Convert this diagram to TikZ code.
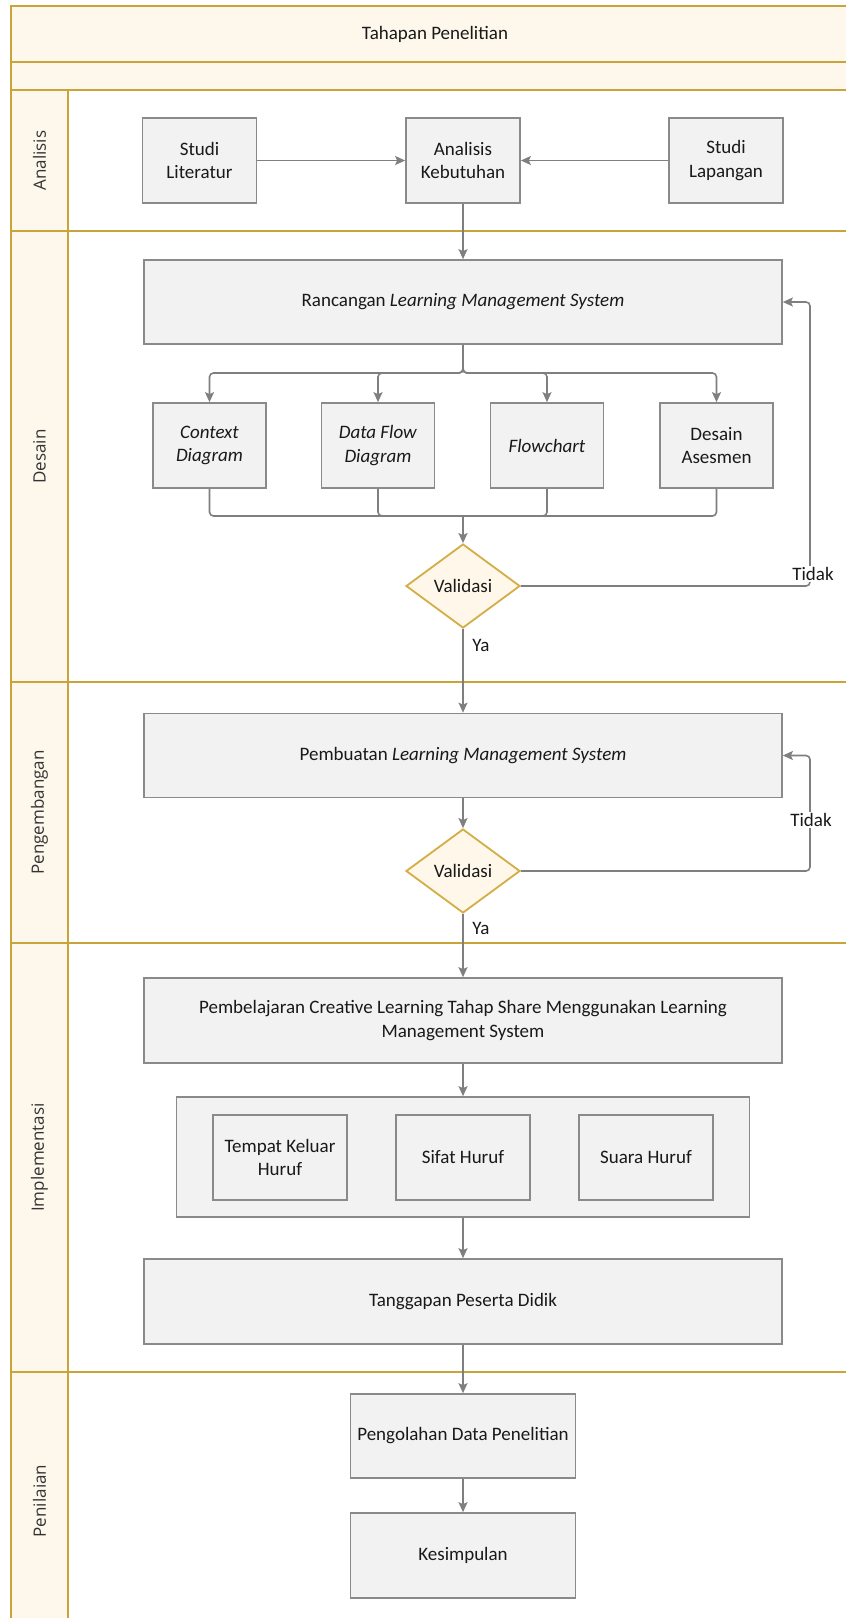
\documentclass[tikz,border=0pt]{standalone}
\usepackage{fontspec}
\setmainfont{Carlito}
\newfontfamily\lanefont{Open Sans}
\usepackage{tikz}
\usetikzlibrary{shapes.geometric,arrows.meta,positioning,calc}
\definecolor{lanegold}{HTML}{C9A43A}
\definecolor{lanecream}{HTML}{FEF8EC}
\definecolor{boxgray}{HTML}{F2F2F2}
\definecolor{boxline}{HTML}{8A8A8A}
\definecolor{connline}{HTML}{7F7F7F}
\definecolor{diafill}{HTML}{FEF7EA}
\definecolor{diagold}{HTML}{D2AE45}

\begin{document}
\begin{tikzpicture}[x=1pt,y=-1pt,
    lane/.style={draw=lanegold,line width=2.4pt},
    lanelabel/.style={rotate=90,font=\lanefont\fontsize{17}{19}\selectfont,text=black!80},
    procbox/.style={draw=boxline,fill=boxgray,line width=1.7pt,align=center,inner sep=2pt,font=\fontsize{19}{23.5}\selectfont,text=black!90},
    smallbox/.style={procbox,minimum width=114pt,minimum height=85pt},
    widebox/.style={procbox,minimum width=638pt,minimum height=84pt},
    decision/.style={diamond,draw=diagold,fill=diafill,line width=1.8pt,minimum width=114pt,minimum height=84pt,inner sep=0pt,font=\fontsize{19}{23.5}\selectfont,text=black!90},
    conn/.style={draw=connline,line width=1.6pt,rounded corners=4pt},
    arr/.style={conn,-{Stealth[length=10pt,width=9pt,inset=2pt]}},
    edgelabel/.style={font=\fontsize{19}{23.5}\selectfont,text=black!90,inner sep=1pt}]
    \path[use as bounding box] (0,0) rectangle (846,1618);
    \clip (0,0) rectangle (846,1618);

    % Header rows
    \draw[lane,fill=lanecream] (11,6) rectangle (870,62);
    \draw[lane,fill=lanecream] (11,62) rectangle (870,90);
    \node[edgelabel] (title) at (435,34) {Tahapan Penelitian};

    % Lanes
    \foreach \ytop/\ybot/\lname/\ltext in {90/231/ana/Analisis,231/682/des/Desain,682/943/dev/Pengembangan,943/1372/imp/Implementasi,1372/1630/eval/Penilaian}{
        \draw[lane,fill=white] (68,\ytop) rectangle (870,\ybot);
        \draw[lane,fill=lanecream] (11,\ytop) rectangle (68,\ybot);
        \node[lanelabel] (lane-\lname) at (39.5,{(\ytop+\ybot)/2}) {\ltext};
    }

    % Analisis
    \node[smallbox] (litr) at (199.5,160.5) {Studi\\Literatur};
    \node[smallbox] (kebt) at (463,160.5) {Analisis\\Kebutuhan};
    \node[smallbox] (lapg) at (726,160.5) {Studi\\Lapangan};

    % Desain
    \node[widebox] (rancang) at (463,302) {Rancangan \textit{Learning Management System}};
    \node[smallbox,minimum width=113pt] (ctx) at (209.5,445.5) {\textit{Context}\\\textit{Diagram}};
    \node[smallbox,minimum width=113pt] (dfd) at (378,445.5) {\textit{Data Flow}\\\textit{Diagram}};
    \node[smallbox,minimum width=113pt] (flow) at (547,445.5) {\textit{Flowchart}};
    \node[smallbox,minimum width=113pt] (asm) at (716.5,445.5) {Desain\\Asesmen};
    \node[decision] (val1) at (463,586) {Validasi};
    \coordinate (split) at (463,373);
    \coordinate (join) at (463,516);
    \coordinate (back1) at (810,586);

    % Pengembangan
    \node[widebox] (buat) at (463,755.5) {Pembuatan \textit{Learning Management System}};
    \node[decision] (val2) at (463,871) {Validasi};
    \coordinate (back2) at (810,871);

    % Implementasi
    \node[widebox,minimum height=85pt] (ajar) at (463,1020.5) {Pembelajaran Creative Learning Tahap Share Menggunakan Learning\\Management System};
    \node[procbox,minimum width=573pt,minimum height=120pt] (grup) at (463,1157) {};
    \node[procbox,minimum width=134pt,minimum height=85pt] (tempat) at (280,1157.5) {Tempat Keluar\\Huruf};
    \node[procbox,minimum width=134pt,minimum height=85pt] (sifat) at (463,1157.5) {Sifat Huruf};
    \node[procbox,minimum width=134pt,minimum height=85pt] (suara) at (646,1157.5) {Suara Huruf};
    \node[widebox,minimum height=85pt] (tangg) at (463,1301.5) {Tanggapan Peserta Didik};

    % Penilaian
    \node[procbox,minimum width=225pt,minimum height=84pt] (olah) at (463,1436) {Pengolahan Data Penelitian};
    \node[procbox,minimum width=225pt,minimum height=85pt] (simp) at (463,1555.5) {Kesimpulan};

    % Connectors
    \draw[arr] (litr) -- (kebt);
    \draw[arr] (lapg) -- (kebt);
    \draw[arr] (kebt) -- (rancang);
    \foreach \c in {ctx,dfd,flow,asm}{
        \draw[arr] (rancang.south) -- (split) -| (\c.north);
        \draw[conn] (\c.south) |- (join);
    }
    \draw[arr] (join) -- (val1);
    \draw[arr] (val1.east) -- (back1) |- (rancang.east);
    \node[edgelabel,fill=white] (tidak1) at (813,574) {Tidak};
    \node[edgelabel] (ya1) at (481,645) {Ya};
    \draw[arr] (val1) -- (buat);
    \draw[arr] (buat) -- (val2);
    \draw[arr] (val2.east) -- (back2) |- (buat.east);
    \node[edgelabel,fill=white] (tidak2) at (811,820) {Tidak};
    \node[edgelabel] (ya2) at (481,928) {Ya};
    \draw[arr] (val2) -- (ajar);
    \draw[arr] (ajar) -- (grup);
    \draw[arr] (grup) -- (tangg);
    \draw[arr] (tangg) -- (olah);
    \draw[arr] (olah) -- (simp);
\end{tikzpicture}
\end{document}
